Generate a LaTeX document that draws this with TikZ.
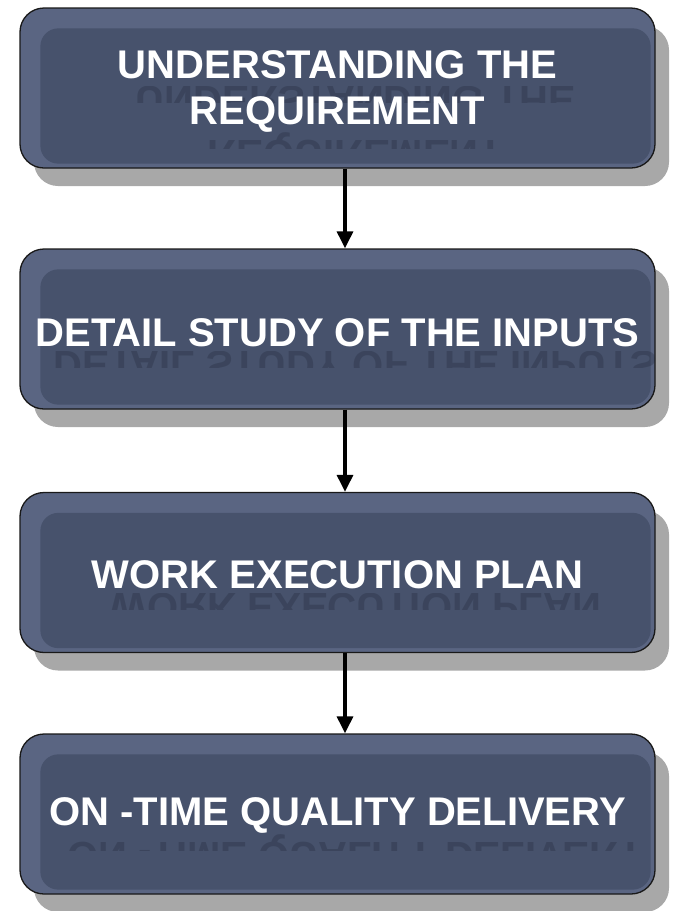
\documentclass[tikz,border=0pt]{standalone}
\usepackage{fontspec}
\setmainfont{Liberation Sans}
\usetikzlibrary{arrows.meta,shadows,calc}
\definecolor{boxrim}{HTML}{5A6582}
\definecolor{boxfill}{HTML}{47526C}
\definecolor{shadowgray}{HTML}{A8A8A8}
\definecolor{mirrorcol}{HTML}{1C2334}
\tikzset{
  stagebox/.style={rectangle, rounded corners=24pt, draw=black!90, line width=1.3pt,
    fill=boxrim, minimum width=635pt, minimum height=160pt, inner sep=0pt,
    drop shadow={shadow xshift=14pt, shadow yshift=-18pt, fill=shadowgray, opacity=1}},
  innerpanel/.style={fill=boxfill, rounded corners=18pt},
  stagetext/.style={text=white, align=center, inner sep=0pt,
    font=\fontsize{40}{46}\selectfont\bfseries},
  mirrortext/.style={text=mirrorcol, opacity=0.28, inner sep=0pt, anchor=north,
    font=\fontsize{40}{46}\selectfont\bfseries},
  flowarrow/.style={line width=3.2pt, -{Triangle[length=17pt,width=16pt]}}
}
\newcommand{\flipv}[1]{\scalebox{1}[-1]{#1}}
\begin{document}
\begin{tikzpicture}[x=1pt,y=-1pt]
\useasboundingbox (0,0) rectangle (673,911);
\fill[white] (0,0) rectangle (673,911);

% boxes
\node[stagebox] (b1) at (337.5,88) {};
\node[stagebox] (b2) at (337.5,329) {};
\node[stagebox] (b3) at (337.5,572.5) {};
\node[stagebox] (b4) at (337.5,814) {};

\foreach \b in {b1,b2,b3,b4}{
  \fill[innerpanel] ($(\b.north west)+(21,21)$) rectangle ($(\b.south east)+(-5,-5)$);
}

% reflections
\begin{scope}
\clip (20,86) rectangle (673,102);
\node[mirrortext] (r1a) at (355.5,86) {\flipv{UNDERSTANDING THE}};
\end{scope}
\begin{scope}
\clip (20,132) rectangle (673,148);
\node[mirrortext] (r1b) at (355.5,132) {\flipv{REQUIREMENT}};
\end{scope}
\begin{scope}
\clip (20,351) rectangle (673,367);
\node[mirrortext] (r2) at (355.5,351) {\flipv{DETAIL STUDY OF THE INPUTS}};
\end{scope}
\begin{scope}
\clip (20,593) rectangle (673,609);
\node[mirrortext] (r3) at (355.5,593) {\flipv{WORK EXECUTION PLAN}};
\end{scope}
\begin{scope}
\clip (20,834) rectangle (673,850);
\node[mirrortext] (r4) at (355.5,834) {\flipv{ON -TIME QUALITY DELIVERY}};
\end{scope}

% texts
\node[stagetext] (t1) at (337.5,91.5) {UNDERSTANDING THE\\REQUIREMENT};
\node[stagetext] (t2) at (337.5,332.5) {DETAIL STUDY OF THE INPUTS};
\node[stagetext] (t3) at (337.5,574.5) {WORK EXECUTION PLAN};
\node[stagetext] (t4) at (337.5,815.5) {ON -TIME QUALITY DELIVERY};

% arrows
\coordinate (ax) at (345,0);
\draw[flowarrow] (b1.south -| ax) -- (b2.north -| ax);
\draw[flowarrow] (b2.south -| ax) -- (b3.north -| ax);
\draw[flowarrow] (b3.south -| ax) -- (b4.north -| ax);
\end{tikzpicture}
\end{document}
